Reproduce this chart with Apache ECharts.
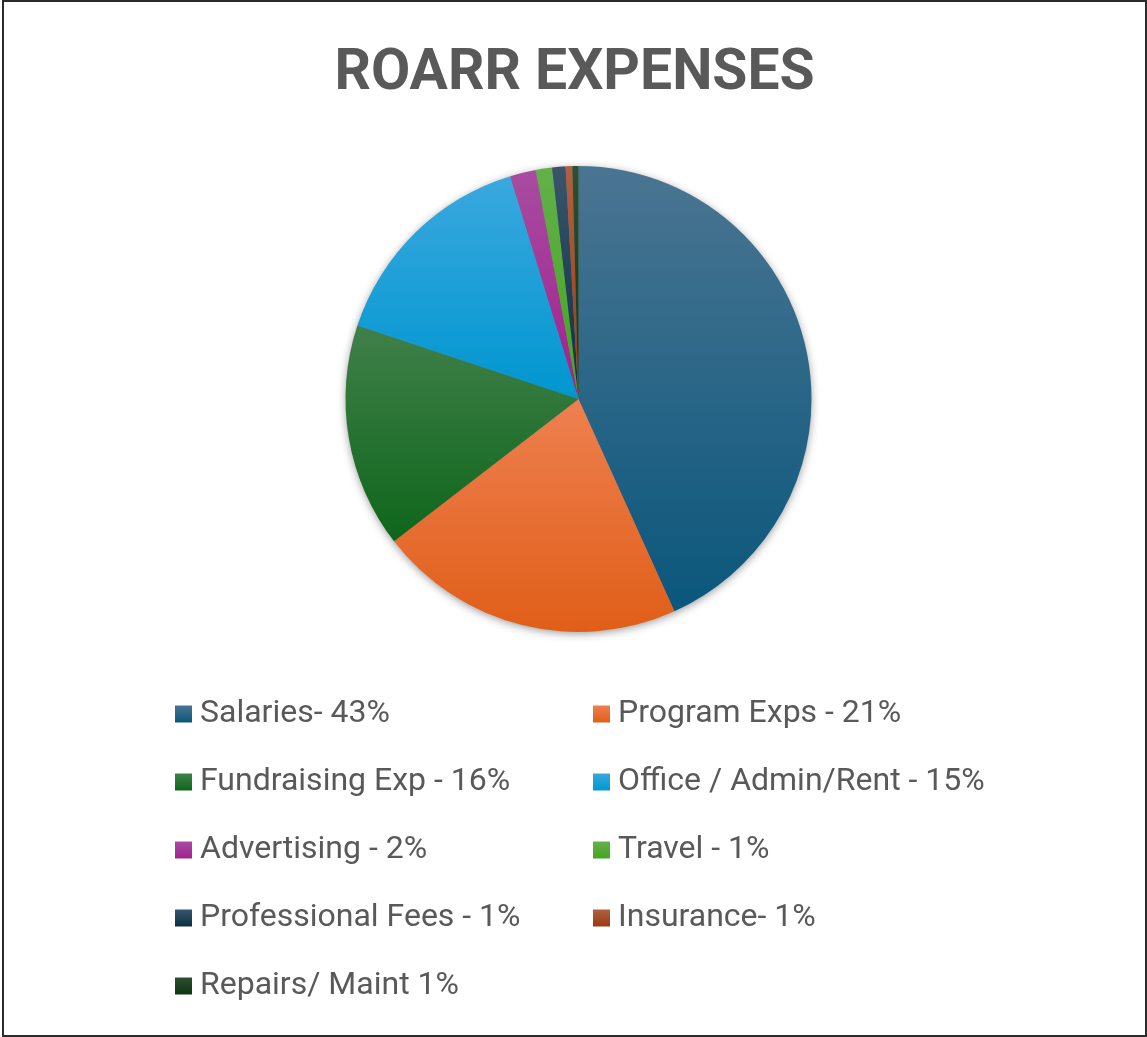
<!DOCTYPE html>
<html>
<head>
<meta charset="utf-8">
<script src="https://cdn.jsdelivr.net/npm/echarts@6/dist/echarts.min.js"></script>
<style>
html,body{margin:0;padding:0;background:#fff;}
#frame{position:absolute;left:2px;top:0px;width:1141px;height:1033px;border:2px solid #2b2b2b;box-sizing:content-box;}
#chart{width:1141px;height:1033px;}
</style>
</head>
<body>
<div id="frame"><div id="chart"></div></div>
<script>
const categories = [
  'Salaries- 43%',
  'Program Exps - 21%',
  'Fundraising Exp - 16%',
  'Office / Admin/Rent - 15%',
  'Advertising - 2%',
  'Travel - 1%',
  'Professional Fees - 1%',
  'Insurance- 1%',
  'Repairs/ Maint 1%'
];
const values = [43.25, 21.3, 15.56, 15.17, 1.78, 1.14, 0.92, 0.47, 0.42];
const titleText = 'ROARR EXPENSES';

const topColors = ['#4A7592','#EE8050','#40804A','#3AA8DE','#A84CA0','#62B04A','#3A556B','#B06040','#2E5035'];
const bottomColors = ['#0A577C','#E05E18','#0E661A','#0096D0','#A0218F','#45A520','#0A3045','#9A3A10','#0C3512'];

const legendColors = ['#156082','#E97132','#196B24','#0F9ED5','#A02B93','#4EA72E','#0E2841','#9A3A10','#0C3512'];

const chart = echarts.init(document.getElementById('chart'), null, {renderer:'canvas'});

const pieData = categories.map((c, i) => ({
  name: c,
  value: values[i],
  itemStyle: {
    color: new echarts.graphic.LinearGradient(0, 0, 0, 1, [
      {offset: 0, color: topColors[i]},
      {offset: 1, color: bottomColors[i]}
    ])
  }
}));

const leftNames = categories.filter((_, i) => i % 2 === 0);
const rightNames = categories.filter((_, i) => i % 2 === 1);

const legendCommon = {
  orient: 'vertical',
  top: 690,
  itemWidth: 17,
  itemHeight: 17,
  itemGap: 34,
  icon: 'rect',
  textStyle: {
    fontFamily: 'Roboto',
    fontSize: 32,
    color: '#595959',
    lineHeight: 34,
    padding: [0, 0, 0, 3]
  },
  selectedMode: false
};

chart.setOption({
  animation: false,
  title: {
    text: titleText,
    left: 'center',
    top: 39,
    textStyle: {
      fontFamily: 'Roboto',
      fontWeight: 'bold',
      fontSize: 57,
      color: '#595959'
    }
  },
  color: legendColors,
  legend: [
    Object.assign({}, legendCommon, {left: 166, data: leftNames}),
    Object.assign({}, legendCommon, {left: 584, data: rightNames})
  ],
  series: [
    {
      type: 'pie',
      silent: true,
      center: [574.5, 397],
      radius: [0, 232],
      startAngle: 90,
      label: {show: false},
      labelLine: {show: false},
      data: [{value: 1, name: '_bg', itemStyle: {color: '#777', shadowBlur: 10, shadowColor: 'rgba(0,0,0,0.45)', shadowOffsetY: 2}}],
      z: 1,
      legendHoverLink: false
    },
    {
      type: 'pie',
      center: [574.5, 397],
      radius: [0, 233],
      startAngle: 90,
      clockwise: true,
      label: {show: false},
      labelLine: {show: false},
      itemStyle: {borderWidth: 0},
      emphasis: {disabled: true},
      data: pieData,
      z: 2
    }
  ]
});
</script>
</body>
</html>
